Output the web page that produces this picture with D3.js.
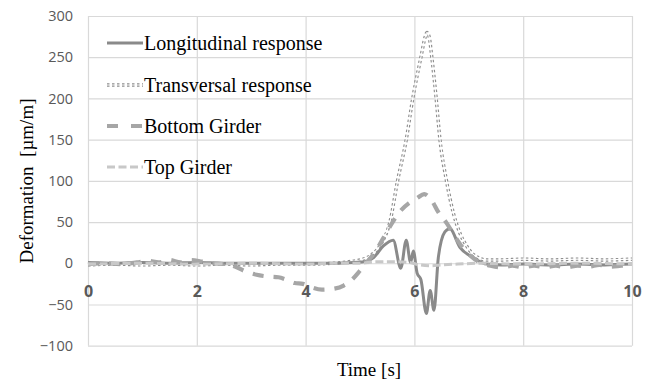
<!DOCTYPE html>
<html>
<head>
<meta charset="utf-8">
<script src="https://cdn.jsdelivr.net/npm/d3@7/dist/d3.min.js"></script>
<style>
  html, body { margin: 0; padding: 0; background: #fff; }
  svg { display: block; }
</style>
</head>
<body>
<svg id="chart" width="651" height="383"></svg>
<script>
// Strain gauge responses over time [s], deformation in µm/m
const longT = [0, 0.5, 1.0, 1.5, 2.0, 2.5, 3.0, 3.5, 4.0, 4.5, 4.9, 5.1, 5.25, 5.43, 5.61, 5.75, 5.85, 5.93, 5.98, 6.05, 6.12, 6.22, 6.29, 6.36, 6.44, 6.56, 6.65, 6.84, 7.08, 7.33, 7.6, 8.0, 8.5, 9.0, 9.5, 10];
const longV = [1, 0, 1, 0, 1, 0, 0, 0, 0, 0, 1, 2, 7, 21, 28, -6, 28, 1, 15, -12, -20, -61, -33, -57, 7, 38, 42, 19, 7, -1, -2, -1, -2, -1, -2, -1];

const transT = [0, 0.5, 1, 1.5, 2, 2.5, 3, 3.5, 4, 4.5, 4.8, 5.0, 5.21, 5.40, 5.55, 5.69, 5.85, 5.97, 6.12, 6.20, 6.23, 6.27, 6.32, 6.40, 6.47, 6.59, 6.72, 6.84, 6.96, 7.08, 7.33, 7.57, 8, 8.5, 9, 9.5, 10];
const transV = [-2, -1, -2, -1, -2, -1, -2, -1, -1, 0, 2, 4, 10, 25, 50, 100, 150, 200, 250, 275, 280, 275, 250, 200, 150, 100, 60, 36, 21, 11, 4, 4, 5, 4, 5, 4, 5];

const bottomT = [0, 0.3, 0.6, 0.9, 1.1, 1.3, 1.5, 1.7, 1.9, 2.1, 2.3, 2.5, 2.7, 2.9, 3.1, 3.3, 3.5, 3.65, 3.8, 3.95, 4.1, 4.3, 4.5, 4.7, 4.85, 5.0, 5.15, 5.3, 5.45, 5.6, 5.75, 5.9, 6.05, 6.18, 6.32, 6.44, 6.59, 6.75, 6.9, 7.05, 7.2, 7.4, 7.6, 7.8, 8.0, 8.2, 8.4, 8.6, 8.8, 9.0, 9.2, 9.4, 9.6, 9.8, 10];
const bottomV = [-1, 0, -1, 1, 3, 1, 4, 1, 4, 2, 0, -1, -4, -10, -14, -16, -17, -20, -24, -25, -29, -32, -31, -27, -20, -9, 3, 16, 33, 50, 64, 73, 79, 84, 76, 62, 49, 32, 18, 8, 1, -3, -5, -3, -5, -3, -5, -3, -5, -3, -4, -2, -4, -3, -2];

const topT = [0, 1, 2, 3, 4, 4.5, 5, 5.3, 5.6, 5.9, 6.1, 6.3, 6.5, 6.8, 7.2, 8, 9, 10];
const topV = [-1, 0, -1, 0, -1, 0, 0, 2, 2, 1, -2, -3, -2, -1, 0, -1, 0, -1];

const xTicks = [0, 2, 4, 6, 8, 10];
const yTicks = [-100, -50, 0, 50, 100, 150, 200, 250, 300];
const seriesNames = ["Longitudinal response", "Transversal response", "Bottom Girder", "Top Girder"];

const svg = d3.select("#chart");
const x = d3.scaleLinear().domain([0, 10]).range([88, 632]);
const y = d3.scaleLinear().domain([-100, 300]).range([345.7, 16]);
const plotW = x.range()[1] - x.range()[0];
const plotH = y.range()[0] - y.range()[1];

// gridlines
const gx = svg.append("g")
  .attr("transform", `translate(0,${y(-100)})`)
  .call(d3.axisBottom(x).tickValues(xTicks).tickSize(-plotH).tickFormat(""));
const gy = svg.append("g")
  .attr("transform", `translate(${x(0)},0)`)
  .call(d3.axisLeft(y).tickValues(yTicks).tickSize(-plotW).tickPadding(15));
[gx, gy].forEach(g => {
  g.select(".domain").remove();
  g.selectAll(".tick line").attr("stroke", "#d9d9d9").attr("stroke-width", 1.2);
});
gy.selectAll(".tick text")
  .attr("fill", "#595959")
  .style("font-family", "'Open Sans', sans-serif")
  .style("font-size", "14.5px");

// time labels sit just under the zero line
const gz = svg.append("g")
  .attr("transform", `translate(0,${y(0)})`)
  .call(d3.axisBottom(x).tickValues(xTicks).tickSize(0).tickFormat(d3.format("d")));
gz.select(".domain").remove();
gz.selectAll(".tick text")
  .attr("y", 34).attr("dy", 0)
  .attr("fill", "#595959")
  .style("font-family", "'Open Sans', sans-serif")
  .style("font-weight", "bold")
  .style("font-size", "16px");

const line = d3.line().x(d => x(d[0])).y(d => y(d[1])).curve(d3.curveMonotoneX);
const zip = (t, v) => t.map((ti, i) => [ti, v[i]]);

const styles = [
  { stroke: "#8a8a8a", width: 3, dash: null },
  { stroke: "#8e8e8e", width: 3.4, dash: "2.5,2.5", hollow: true },
  { stroke: "#a6a6a6", width: 4.2, dash: "11,10" },
  { stroke: "#c8c8c8", width: 3, dash: "8,3.5" }
];
const data = [zip(longT, longV), zip(transT, transV), zip(bottomT, bottomV), zip(topT, topV)];

// draw the double dotted transversal trace first, then the others
const order = [1, 0, 2, 3];
const plot = svg.append("g");
order.forEach(i => {
  const s = styles[i];
  const p = plot.append("path").datum(data[i])
    .attr("fill", "none")
    .attr("stroke", s.stroke)
    .attr("stroke-width", s.width)
    .attr("stroke-linejoin", "round")
    .attr("d", line);
  if (s.dash) p.attr("stroke-dasharray", s.dash);
  if (s.hollow) {
    plot.append("path").datum(data[i])
      .attr("fill", "none")
      .attr("stroke", "#fff")
      .attr("stroke-width", 1.1)
      .attr("d", line);
  }
});

// legend
const legY = [43, 85, 126, 167];
const leg = svg.append("g");
seriesNames.forEach((name, i) => {
  const s = styles[i];
  const ly = legY[i];
  const l = leg.append("line")
    .attr("x1", 107).attr("x2", 143).attr("y1", ly).attr("y2", ly)
    .attr("stroke", s.stroke).attr("stroke-width", s.width);
  if (s.dash) l.attr("stroke-dasharray", i === 2 ? "11,13" : s.dash);
  if (s.hollow) {
    leg.append("line")
      .attr("x1", 107).attr("x2", 143).attr("y1", ly).attr("y2", ly)
      .attr("stroke", "#fff").attr("stroke-width", 1.1);
  }
  leg.append("text")
    .attr("x", 144).attr("y", ly + 6.5)
    .attr("fill", "#000")
    .style("font-family", "'Liberation Serif', 'Times New Roman', serif")
    .style("font-size", "20px")
    .text(name);
});

// axis titles
svg.append("text")
  .attr("transform", `translate(33,${181}) rotate(-90)`)
  .attr("text-anchor", "middle")
  .attr("fill", "#000")
  .style("font-family", "'Liberation Serif', 'Times New Roman', serif")
  .style("font-size", "19px")
  .style("white-space", "pre")
  .text("Deformation  [µm/m]");
svg.append("text")
  .attr("x", 369).attr("y", 376)
  .attr("text-anchor", "middle")
  .attr("fill", "#000")
  .style("font-family", "'Liberation Serif', 'Times New Roman', serif")
  .style("font-size", "19px")
  .text("Time [s]");
</script>
</body>
</html>
